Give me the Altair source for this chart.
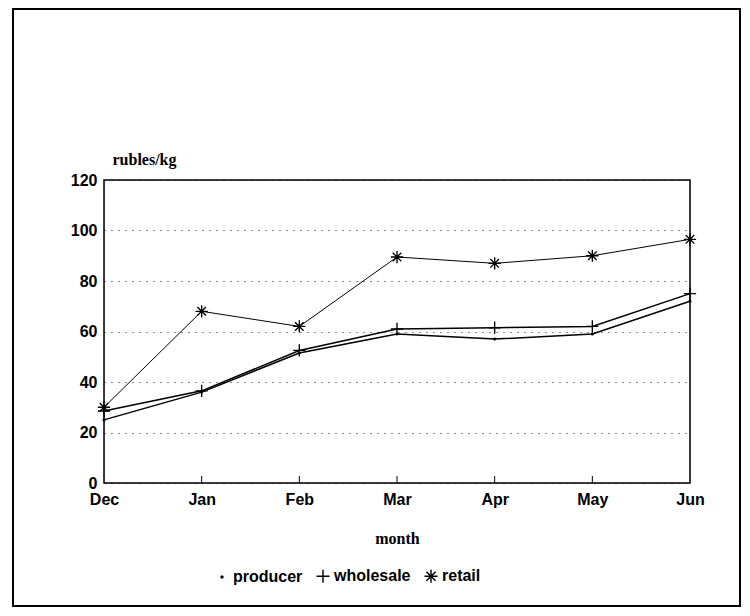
import altair as alt
import pandas as pd

months = ["Dec", "Jan", "Feb", "Mar", "Apr", "May", "Jun"]
producer = [25, 36, 51.5, 59, 57, 59, 72]
wholesale = [28.5, 36.5, 52.5, 61, 61.5, 62, 75]
retail = [30, 68, 62, 89.5, 87, 90, 96.5]
series = ["producer", "wholesale", "retail"]

rows = []
for name, vals in zip(series, [producer, wholesale, retail]):
    for m, v in zip(months, vals):
        rows.append({"month": m, "price": v, "series": name})
df = pd.DataFrame(rows)
mdf = pd.DataFrame({"month": months[1:-1]})

W, H = 586, 303
SANS = "Liberation Sans"
SERIF = "Liberation Serif"

xscale = alt.Scale(type="point", domain=months, padding=0)

xenc = alt.X("month:O", sort=months, scale=xscale,
             axis=alt.Axis(title="month", labelAngle=0, ticks=False, domain=False,
                           labelFont=SANS, labelFontWeight="bold", labelFontSize=16,
                           labelColor="black", labelPadding=8,
                           titleFont=SERIF, titleFontWeight="bold", titleFontSize=16,
                           titleColor="black", titlePadding=23, grid=False))
yenc = alt.Y("price:Q", scale=alt.Scale(domain=[0, 120], nice=False),
             axis=alt.Axis(title="rubles/kg", values=[0, 20, 40, 60, 80, 100, 120],
                           ticks=False, domain=False,
                           labelFont=SANS, labelFontWeight="bold", labelFontSize=16,
                           labelColor="black", labelPadding=7,
                           titleFont=SERIF, titleFontWeight="bold", titleFontSize=16,
                           titleColor="black", titleAngle=0, titleAlign="left",
                           titleBaseline="bottom", titleX=8, titleY=-13,
                           grid=True, gridColor="black", gridDash=[1, 6],
                           gridWidth=1.2, gridOpacity=0.9))

w = 0.11
d = round(w / 2 ** 0.5, 3)
hbar = f"M-1,{-w}L1,{-w}L1,{w}L-1,{w}Z"
vbar = f"M{-w},-1L{w},-1L{w},1L{-w},1Z"
diag1 = (f"M{-0.7 + d},{-0.7 - d}L{0.7 + d},{0.7 - d}L{0.7 - d},{0.7 + d}"
         f"L{-0.7 - d},{-0.7 + d}Z")
diag2 = (f"M{-0.7 - d},{0.7 - d}L{0.7 - d},{-0.7 - d}L{0.7 + d},{-0.7 + d}"
         f"L{-0.7 + d},{0.7 + d}Z")
shape_paths = [
    "M-0.25,0A0.25,0.25,0,1,0,0.25,0A0.25,0.25,0,1,0,-0.25,0Z",
    hbar + vbar,
    hbar + vbar + diag1 + diag2,
]

frame = alt.Chart(pd.DataFrame({"a": [0]})).mark_rect(
    fillOpacity=0, stroke="black", strokeWidth=2
).encode(x=alt.value(-91), x2=alt.value(W + 50), y=alt.value(-171), y2=alt.value(H + 123))

lines_pw = alt.Chart(df).transform_filter(
    alt.datum.series != "retail"
).mark_line(color="black", strokeWidth=1.5).encode(x=xenc, y=yenc, detail="series:N")

lines_r = alt.Chart(df).transform_filter(
    alt.datum.series == "retail"
).mark_line(color="black", strokeWidth=1).encode(
    x=alt.X("month:O", sort=months, scale=xscale), y="price:Q")

points = alt.Chart(df).mark_point(filled=True, color="black", opacity=1, size=150).encode(
    x=alt.X("month:O", sort=months, scale=xscale),
    y="price:Q",
    shape=alt.Shape("series:N", scale=alt.Scale(domain=series, range=shape_paths),
                    legend=alt.Legend(title=None, orient="none", direction="horizontal",
                                      legendX=110, legendY=388,
                                      labelFont=SANS, labelFontWeight="bold",
                                      labelFontSize=16, labelColor="black",
                                      symbolFillColor="black", symbolSize=170,
                                      symbolOpacity=1,
                                      columnPadding=10, labelOffset=3)),
)

ticks = alt.Chart(mdf).mark_rule(color="black", strokeWidth=1).encode(
    x=alt.X("month:O", sort=months, scale=xscale), y=alt.value(H - 7), y2=alt.value(H)
)

border = alt.Chart(pd.DataFrame({"a": [0]})).mark_rect(
    fillOpacity=0, stroke="black", strokeWidth=1.5
).encode(x=alt.value(0), x2=alt.value(W), y=alt.value(0), y2=alt.value(H))

chart = alt.layer(frame, lines_pw, lines_r, ticks, points, border).properties(
    width=W, height=H,
    autosize=alt.AutoSizeParams(type="none"),
    padding={"left": 96, "top": 172, "right": 52, "bottom": 125},
).configure_view(stroke=None).configure(background="white")

chart.save("out.html", embed_options={"renderer": "svg", "actions": False})
